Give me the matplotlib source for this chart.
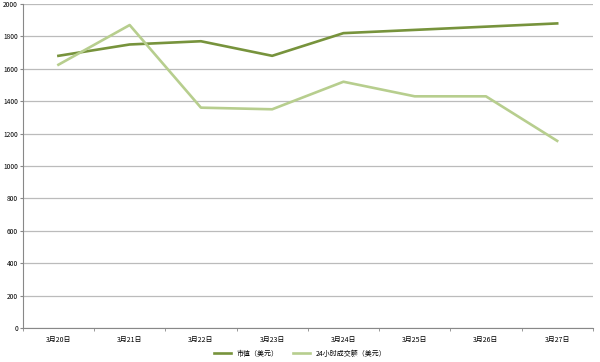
import matplotlib
matplotlib.use("Agg")
import matplotlib.pyplot as plt

plt.rcParams['font.family'] = ['Noto Sans CJK SC', 'DejaVu Sans']

categories = ["3月20日", "3月21日", "3月22日", "3月23日", "3月24日", "3月25日", "3月26日", "3月27日"]
market_cap = [1680, 1750, 1770, 1680, 1820, 1840, 1860, 1880]
volume_24h = [1625, 1870, 1360, 1350, 1520, 1430, 1430, 1155]
series_names = ["市值（美元）", "24小时成交额（美元）"]
yticks = [0, 200, 400, 600, 800, 1000, 1200, 1400, 1600, 1800, 2000]

fig = plt.figure(figsize=(6, 3.62), dpi=100)
ax = fig.add_axes([0.038, 0.094, 0.950, 0.895])

x = list(range(len(categories)))
ax.plot(x, market_cap, color='#77933C', lw=1.9, label=series_names[0], zorder=3)
ax.plot(x, volume_24h, color='#B7CE8E', lw=1.9, label=series_names[1], zorder=3)

ax.set_xlim(-0.5, len(categories) - 0.5)
ax.set_ylim(0, 2000)
ax.set_yticks(yticks)
ax.set_yticklabels([str(v) for v in yticks], fontsize=4.8)
ax.set_xticks(x)
ax.set_xticklabels(categories, fontsize=5)
ax.set_xticks([i - 0.5 for i in range(len(categories) + 1)], minor=True)
ax.tick_params(axis='x', which='major', length=0, pad=6)
ax.tick_params(axis='x', which='minor', length=2.5, color='#888888')
ax.tick_params(axis='y', length=2, color='#888888', pad=1.5)
ax.grid(axis='y', color='#BBBBBB', lw=0.9)
ax.set_axisbelow(True)
for s in ['top', 'right']:
    ax.spines[s].set_visible(False)
for s in ['left', 'bottom']:
    ax.spines[s].set_color('#888888')

fig.legend(loc='lower center', bbox_to_anchor=(0.5, -0.005), ncol=2, fontsize=5,
           frameon=False, handlelength=2.5, columnspacing=2.0)

fig.savefig("out.png", dpi=100)
